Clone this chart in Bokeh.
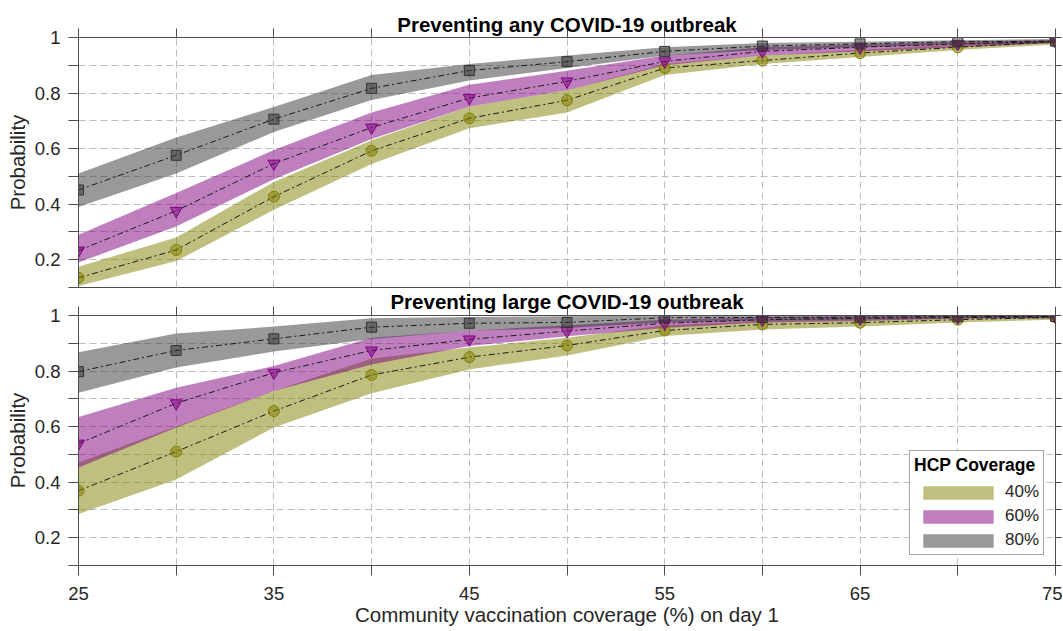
from bokeh.plotting import figure
from bokeh.layouts import column
from bokeh.models import Range1d, LinearAxis, FixedTicker, CustomJSTickFormatter, Grid
from bokeh.embed import file_html
from bokeh.resources import INLINE

# ---------------- data ----------------
coverage = [25, 30, 35, 40, 45, 50, 55, 60, 65, 70, 75]
hcp_levels = ["40%", "60%", "80%"]

# Panel 1: preventing any outbreak
any_40_mean = [0.135, 0.235, 0.427, 0.592, 0.709, 0.774, 0.890, 0.917, 0.944, 0.965, 0.985]
any_40_lo   = [0.105, 0.195, 0.380, 0.545, 0.673, 0.730, 0.865, 0.905, 0.930, 0.955, 0.975]
any_40_hi   = [0.175, 0.280, 0.480, 0.630, 0.752, 0.810, 0.905, 0.935, 0.955, 0.975, 0.990]

any_60_mean = [0.233, 0.376, 0.546, 0.676, 0.782, 0.842, 0.914, 0.950, 0.965, 0.977, 0.986]
any_60_lo   = [0.190, 0.320, 0.490, 0.635, 0.752, 0.810, 0.900, 0.935, 0.950, 0.965, 0.980]
any_60_hi   = [0.290, 0.440, 0.595, 0.730, 0.830, 0.880, 0.935, 0.965, 0.975, 0.985, 0.990]

any_80_mean = [0.451, 0.576, 0.706, 0.817, 0.881, 0.913, 0.950, 0.969, 0.977, 0.985, 0.987]
any_80_lo   = [0.390, 0.510, 0.660, 0.775, 0.845, 0.890, 0.935, 0.955, 0.965, 0.975, 0.980]
any_80_hi   = [0.510, 0.640, 0.750, 0.865, 0.905, 0.935, 0.965, 0.980, 0.985, 0.990, 0.995]

# Panel 2: preventing large outbreak
large_40_mean = [0.369, 0.510, 0.656, 0.786, 0.850, 0.892, 0.946, 0.968, 0.974, 0.985, 0.993]
large_40_lo   = [0.285, 0.410, 0.597, 0.720, 0.806, 0.856, 0.926, 0.950, 0.960, 0.975, 0.985]
large_40_hi   = [0.471, 0.600, 0.728, 0.845, 0.885, 0.920, 0.965, 0.980, 0.985, 0.992, 0.995]

large_60_mean = [0.539, 0.684, 0.794, 0.874, 0.914, 0.944, 0.972, 0.985, 0.990, 0.993, 0.995]
large_60_lo   = [0.453, 0.597, 0.728, 0.824, 0.890, 0.925, 0.955, 0.975, 0.980, 0.988, 0.990]
large_60_hi   = [0.635, 0.740, 0.818, 0.920, 0.945, 0.965, 0.985, 0.995, 0.997, 0.998, 0.998]

large_80_mean = [0.798, 0.874, 0.916, 0.958, 0.972, 0.975, 0.992, 0.993, 0.994, 0.996, 0.997]
large_80_lo   = [0.722, 0.813, 0.870, 0.915, 0.945, 0.955, 0.975, 0.980, 0.985, 0.990, 0.992]
large_80_hi   = [0.868, 0.935, 0.960, 0.990, 0.995, 0.997, 0.999, 0.999, 0.999, 0.999, 0.999]

x_tick_labels = [25, 35, 45, 55, 65, 75]
x_minor_ticks = [30, 40, 50, 60, 70]
y_tick_labels = [0.2, 0.4, 0.6, 0.8, 1.0]
y_minor_ticks = [0.1, 0.3, 0.5, 0.7, 0.9]

panel_titles = ["Preventing any COVID-19 outbreak", "Preventing large COVID-19 outbreak"]
x_label = "Community vaccination coverage (%) on day 1"
y_label = "Probability"
legend_title = "HCP Coverage"

# ---------------- style ----------------
FONT = "Liberation Sans"
AXIS_COLOR = "#4d4d4d"
TEXT_COLOR = "#262626"
GRID_COLOR = "#bdbdbd"
FILL = {"40%": "#808000", "60%": "#800080", "80%": "#333333"}
MARKER = {"40%": "circle", "60%": "inverted_triangle", "80%": "square"}
MSIZE = {"40%": 11, "60%": 12, "80%": 10}

any_series = {
    "40%": (any_40_lo, any_40_mean, any_40_hi),
    "60%": (any_60_lo, any_60_mean, any_60_hi),
    "80%": (any_80_lo, any_80_mean, any_80_hi),
}
large_series = {
    "40%": (large_40_lo, large_40_mean, large_40_hi),
    "60%": (large_60_lo, large_60_mean, large_60_hi),
    "80%": (large_80_lo, large_80_mean, large_80_hi),
}

x_range = Range1d(25, 75)
xticker = FixedTicker(ticks=x_tick_labels, minor_ticks=x_minor_ticks)
yticker = FixedTicker(ticks=y_tick_labels, minor_ticks=y_minor_ticks)


def tick_style(ax, out):
    ax.major_tick_in = 0
    ax.major_tick_out = out
    ax.minor_tick_in = 0
    ax.minor_tick_out = out
    ax.axis_line_color = AXIS_COLOR
    ax.major_tick_line_color = AXIS_COLOR
    ax.minor_tick_line_color = AXIS_COLOR


def blank_axis(ticker, out):
    ax = LinearAxis(ticker=ticker, formatter=CustomJSTickFormatter(code="return ''"),
                    major_label_text_font_size="1px", major_label_standoff=0)
    tick_style(ax, out)
    return ax


def build_panel(series, title, height, border_top, border_bottom, title_standoff,
                bottom_labels, with_legend):
    p = figure(width=1062, height=height, x_range=x_range, y_range=Range1d(0.1, 1.0),
               x_axis_location=None, y_axis_location=None,
               output_backend="svg", toolbar_location=None,
               min_border_left=78, min_border_right=7,
               min_border_top=border_top, min_border_bottom=border_bottom)
    for g in list(p.grid):
        g.visible = False
    p.outline_line_color = AXIS_COLOR
    p.outline_line_alpha = 1.0
    p.background_fill_color = "white"
    p.border_fill_color = "white"

    # title (first item of the "above" panel, outside the tick axis)
    p.title.text = title
    p.title.align = "center"
    p.title.vertical_align = "bottom"
    p.title.standoff = title_standoff
    p.title.text_font = FONT
    p.title.text_font_size = "20.5px"
    p.title.text_font_style = "bold"
    p.title.text_color = "black"

    p.add_layout(Grid(dimension=0, ticker=xticker, grid_line_color=GRID_COLOR, grid_line_dash="7 4",
                      minor_grid_line_color=GRID_COLOR, minor_grid_line_dash="7 4"))
    p.add_layout(Grid(dimension=1, ticker=yticker, grid_line_color=GRID_COLOR, grid_line_dash="7 4",
                      minor_grid_line_color=GRID_COLOR, minor_grid_line_dash="7 4"))

    yax = LinearAxis(ticker=yticker,
                     formatter=CustomJSTickFormatter(code="return String(Math.round(tick*10)/10)"),
                     axis_label=y_label, axis_label_text_font=FONT, axis_label_text_font_size="20.5px",
                     axis_label_text_font_style="normal", axis_label_text_color=TEXT_COLOR,
                     axis_label_standoff=3,
                     major_label_text_font=FONT, major_label_text_font_size="18.5px",
                     major_label_text_color=TEXT_COLOR, major_label_standoff=8)
    tick_style(yax, 10)
    p.add_layout(yax, "left")

    p.add_layout(blank_axis(xticker, 9), "above")
    p.add_layout(blank_axis(yticker, 6), "right")

    if bottom_labels:
        bax = LinearAxis(ticker=xticker, major_label_text_font=FONT, major_label_text_font_size="18.5px",
                         major_label_text_color=TEXT_COLOR, major_label_standoff=11,
                         axis_label=x_label, axis_label_text_font=FONT, axis_label_text_font_size="20.5px",
                         axis_label_text_font_style="normal", axis_label_text_color=TEXT_COLOR,
                         axis_label_standoff=0)
        tick_style(bax, 10)
        p.add_layout(bax, "below")

    for k in hcp_levels:
        lo, mean, hi = series[k]
        kw = {"legend_label": k} if with_legend else {}
        p.varea(x=coverage, y1=lo, y2=hi, fill_color=FILL[k], fill_alpha=0.5, **kw)
    for k in hcp_levels:
        lo, mean, hi = series[k]
        p.line(coverage, mean, line_color="#1a1a1a", line_width=1, line_dash="6 3 2 3")
    for k in hcp_levels:
        lo, mean, hi = series[k]
        p.scatter(coverage, mean, marker=MARKER[k], size=MSIZE[k], fill_color=FILL[k], fill_alpha=0.5,
                  line_color=FILL[k], line_width=1)

    if with_legend:
        lg = p.legend[0]
        lg.location = (831, 10)
        lg.title = legend_title
        lg.title_text_font = FONT
        lg.title_text_font_size = "17.5px"
        lg.title_text_font_style = "bold"
        lg.title_text_color = "black"
        lg.title_standoff = 6
        lg.label_text_font = FONT
        lg.label_text_font_size = "17px"
        lg.label_text_color = TEXT_COLOR
        lg.glyph_width = 88
        lg.glyph_height = 17
        lg.label_standoff = 3
        lg.spacing = 4
        lg.padding = 4
        lg.margin = 0
        lg.border_line_color = AXIS_COLOR
        lg.border_line_width = 1
        lg.background_fill_color = "white"
        lg.background_fill_alpha = 1.0
    return p


p1 = build_panel(any_series, panel_titles[0], height=289, border_top=37, border_bottom=2,
                 title_standoff=-14, bottom_labels=False, with_legend=False)
p2 = build_panel(large_series, panel_titles[1], height=341, border_top=26, border_bottom=65,
                 title_standoff=-12, bottom_labels=True, with_legend=True)

layout = column(p1, p2, spacing=0)
open("out.html", "w").write(file_html(layout, INLINE))
